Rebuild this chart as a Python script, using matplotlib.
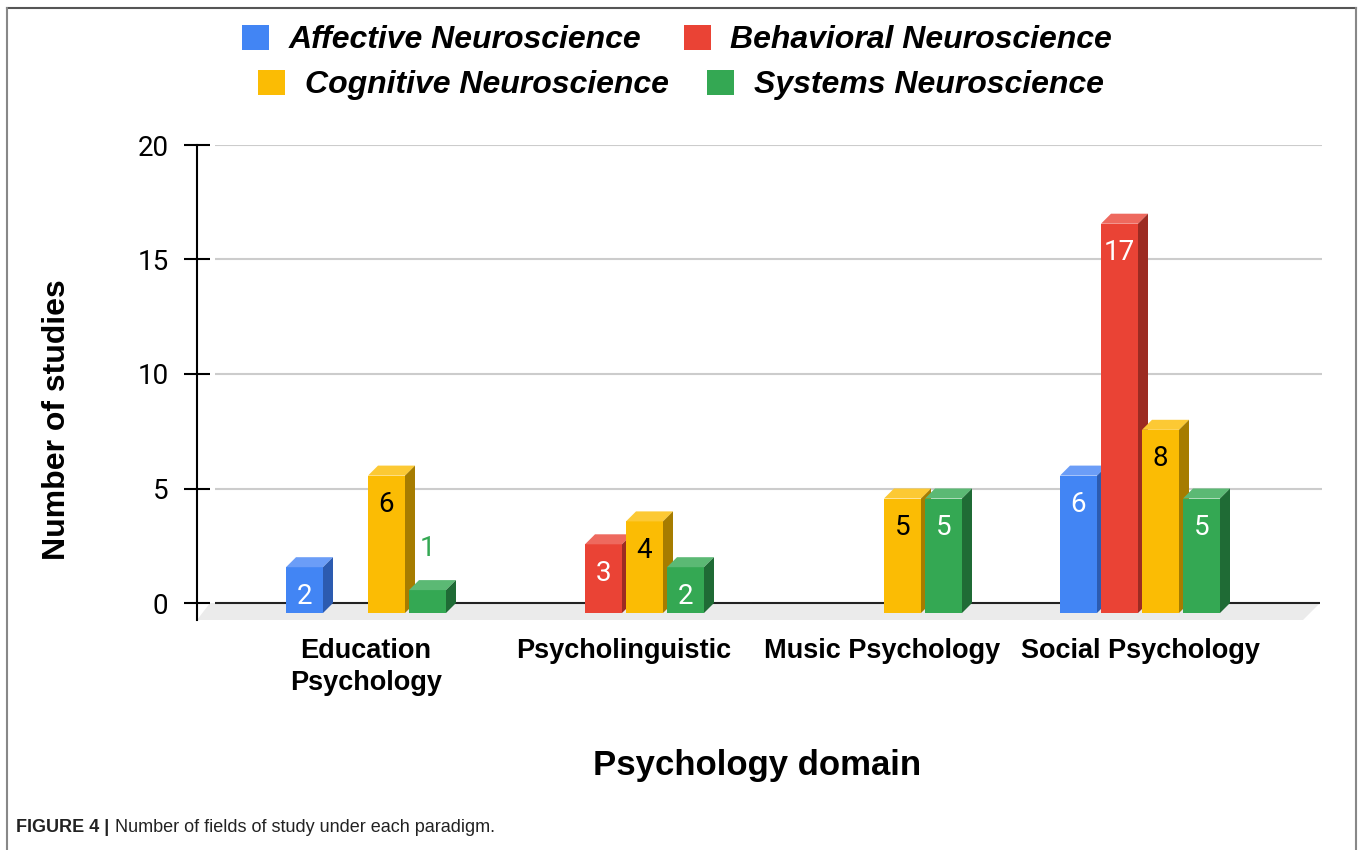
import matplotlib
matplotlib.use("Agg")
import matplotlib.pyplot as plt
from matplotlib.patches import Polygon, Patch
from matplotlib.lines import Line2D

# data
categories = ["Education\nPsychology", "Psycholinguistic", "Music Psychology", "Social Psychology"]
series = ["Affective Neuroscience", "Behavioral Neuroscience",
          "Cognitive Neuroscience", "Systems Neuroscience"]
affective = [2, 0, 0, 6]
behavioral = [0, 3, 0, 17]
cognitive = [6, 4, 5, 8]
systems = [1, 2, 5, 5]
yticks = [0, 5, 10, 15, 20]

values = [affective, behavioral, cognitive, systems]
front = ["#4285F4", "#EA4335", "#FBBC04", "#34A853"]
top = ["#6B9DF7", "#EE695E", "#FCC934", "#5BB974"]
side = ["#2C5BB0", "#9C2B22", "#A67C00", "#1F6B35"]
label_col = ["white", "white", "black", "white"]

W, H = 1358, 850
fig = plt.figure(figsize=(W / 100, H / 100), dpi=100)

# pixel scale of the plot (x: 258 px per category, y: 22.9 px per study)
px_x = 258.0
px_y = (603 - 145) / 20.0
cx0 = 366  # pixel position of first category


def xd(px):
    return (px - cx0) / px_x


ymin = -(620 - 603) / px_y
ax = fig.add_axes([197 / W, (H - 620) / H, (1322 - 197) / W, (620 - 145) / H])
ax.set_xlim(xd(197), xd(1322))
ax.set_ylim(ymin, 20)

# floor
floor = Polygon([(xd(210), 0), (xd(1320), 0), (xd(1303), ymin), (xd(197), ymin)],
                closed=True, facecolor="#EBEBEB", edgecolor="none", zorder=1)
ax.add_patch(floor)

ax.hlines(yticks[1:], xd(215), xd(1322), color="#CCCCCC", lw=1.5, zorder=1.5)
ax.hlines([0], xd(215), xd(1320), color="#222222", lw=1.5, zorder=1.6)

slot = 41 / px_x
bw = 37 / px_x
dx = 10 / px_x
dy = 10 / px_y
lab_family = ["Roboto", "DejaVu Sans"]

for j, vals in enumerate(values):
    xs = [i + (j - 1.5) * slot for i in range(len(categories))]
    z = 3 + j * 0.1
    bars = ax.bar(xs, vals, width=bw, bottom=-dy, color=front[j], lw=0, zorder=z)
    for rect, v in zip(bars, vals):
        if v == 0:
            continue
        x0 = rect.get_x()
        x1 = x0 + rect.get_width()
        yt = rect.get_y() + rect.get_height()
        yb = rect.get_y()
        # top and side faces of the 3d box
        ax.add_patch(Polygon([(x0, yt), (x1, yt), (x1 + dx, yt + dy), (x0 + dx, yt + dy)],
                             closed=True, facecolor=top[j], edgecolor="none", zorder=z))
        ax.add_patch(Polygon([(x1, yt), (x1 + dx, yt + dy), (x1 + dx, yb + dy), (x1, yb)],
                             closed=True, facecolor=side[j], edgecolor="none", zorder=z))
        xc = x0 + rect.get_width() / 2
        if v <= 1:
            ax.text(xc, yt + 42 / px_y, str(v), ha="center", va="center",
                    color=front[j], fontsize=20, family=lab_family, zorder=z)
        else:
            ax.text(xc, yt - 29 / px_y, str(v), ha="center", va="center",
                    color=label_col[j], fontsize=20, family=lab_family, zorder=z)

for s in ["top", "right", "bottom"]:
    ax.spines[s].set_visible(False)
ax.spines["left"].set_linewidth(1.5)
ax.set_yticks(yticks)
ax.tick_params(axis="y", direction="inout", length=19, width=1.5, pad=11, labelsize=20)
for lab in ax.get_yticklabels():
    lab.set_family(lab_family)
ax.set_xticks(range(len(categories)))
ax.set_xticklabels(categories, fontsize=19.5, fontweight="bold", family="Liberation Sans",
                   linespacing=1.3)
ax.tick_params(axis="x", length=0, pad=13)
ax.set_facecolor("none")

# axis titles
fig.text(757 / W, 1 - 765 / H, "Psychology domain", ha="center", va="center",
         fontsize=25, fontweight="bold", family="Liberation Sans")
fig.text(57 / W, 1 - 420 / H, "Number of studies", ha="center", va="center", rotation=90,
         fontsize=23, fontweight="bold", family="Liberation Sans")

# legend, two centred rows
lfont = {"family": "Liberation Sans", "weight": "bold", "style": "italic", "size": 23}
handles = [Patch(facecolor=c, edgecolor="none") for c in front]
fig.legend(handles[:2], series[:2], loc="center", bbox_to_anchor=(677 / W, 1 - 40 / H),
           ncol=2, frameon=False, prop=lfont, handlelength=0.84, handleheight=0.84,
           handletextpad=0.62, columnspacing=1.34, borderpad=0, borderaxespad=0)
fig.legend(handles[2:], series[2:], loc="center", bbox_to_anchor=(681 / W, 1 - 85 / H),
           ncol=2, frameon=False, prop=lfont, handlelength=0.84, handleheight=0.84,
           handletextpad=0.62, columnspacing=1.19, borderpad=0, borderaxespad=0)

# caption
cap = fig.text(16 / W, 1 - 828 / H, "FIGURE 4 |", ha="left", va="center", fontsize=13,
               fontweight="bold", family="Liberation Sans", color="#222222")
fig.add_artist(plt.Annotation("Number of fields of study under each paradigm.",
                              xy=(1, 0.5), xycoords=cap, xytext=(4, 0),
                              textcoords="offset points", ha="left", va="center",
                              fontsize=13, family="Liberation Sans", color="#222222"))

# frame
fig.add_artist(Line2D([7 / W, 1356 / W], [1 - 8 / H, 1 - 8 / H], color="#555555", lw=1.5))
fig.add_artist(Line2D([7 / W, 7 / W], [1 - 8 / H, 0], color="#888888", lw=1.5))
fig.add_artist(Line2D([1356 / W, 1356 / W], [1 - 8 / H, 0], color="#888888", lw=1.5))

fig.savefig("out.png", dpi=100)
